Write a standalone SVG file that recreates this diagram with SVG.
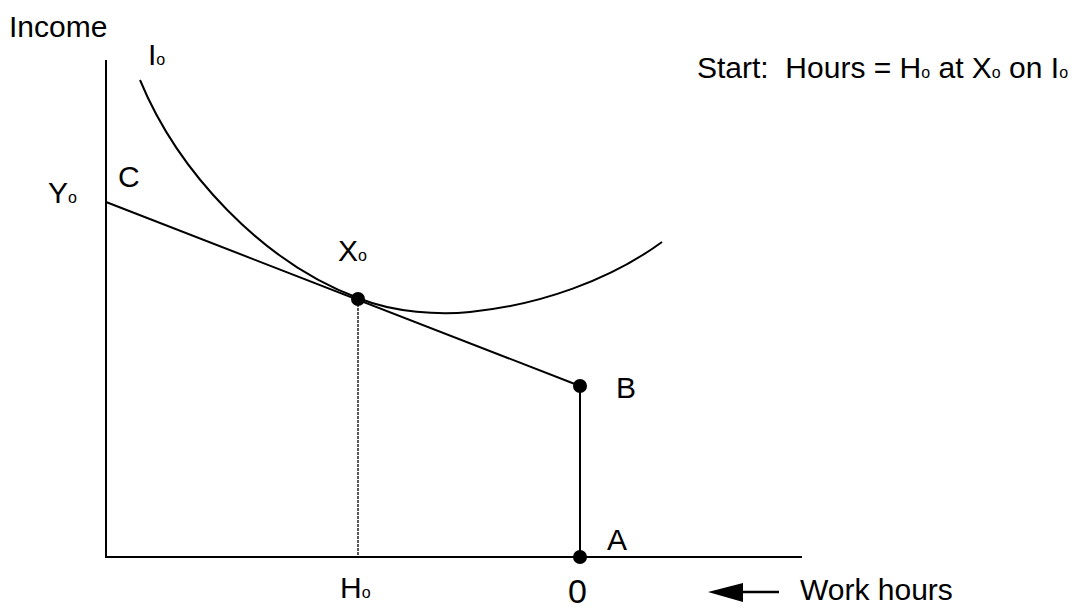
<svg xmlns="http://www.w3.org/2000/svg" width="1079" height="614" viewBox="0 0 1079 614">
<style>
.t{font-family:"Liberation Sans",Arial,sans-serif;font-size:30px;fill:#000}
.s{font-size:16px}
.ln{stroke:#000;stroke-width:2;fill:none}
.dot{fill:#000}
</style>
<rect width="1079" height="614" fill="#fff"/>
<g id="axes">
<line class="ln" x1="106" y1="60" x2="106" y2="557"/>
<line class="ln" x1="105" y1="557" x2="802" y2="557"/>
</g>
<g id="connectors">
<line class="ln" x1="106" y1="202" x2="580" y2="386"/>
<line class="ln" x1="580" y1="386" x2="580" y2="557"/>
<line x1="358" y1="300" x2="358" y2="557" stroke="#000" stroke-width="1.3" stroke-dasharray="3,1"/>
<path class="ln" d="M140,80 C178,172 262,262 358,298 C395,313 440,315 470,312 C540,305 610,280 662,242"/>
<path d="M779,592 L740,592" stroke="#000" stroke-width="2.5"/>
<polygon points="708,592 743,583 743,602" fill="#000"/>
</g>
<g id="X0"><circle class="dot" cx="358" cy="299" r="7"/></g>
<g id="B"><circle class="dot" cx="580" cy="386" r="7"/></g>
<g id="A"><circle class="dot" cx="580" cy="557" r="7"/></g>
<g id="labels">
<text class="t" x="9" y="37">Income</text>
<text class="t" x="148" y="65">I<tspan class="s">o</tspan></text>
<text class="t" x="118" y="187">C</text>
<text class="t" x="48" y="203">Y<tspan class="s">o</tspan></text>
<text class="t" x="338" y="261">X<tspan class="s">o</tspan></text>
<text class="t" x="616" y="398">B</text>
<text class="t" x="607" y="550">A</text>
<text class="t" x="340" y="598">H<tspan class="s">o</tspan></text>
<text class="t" x="568" y="603" style="font-size:34px">0</text>
<text class="t" x="800" y="600">Work hours</text>
<text class="t" x="697" y="78" xml:space="preserve">Start:  Hours = H<tspan class="s">o</tspan> at X<tspan class="s">o</tspan> on I<tspan class="s">o</tspan></text>
</g>
</svg>
